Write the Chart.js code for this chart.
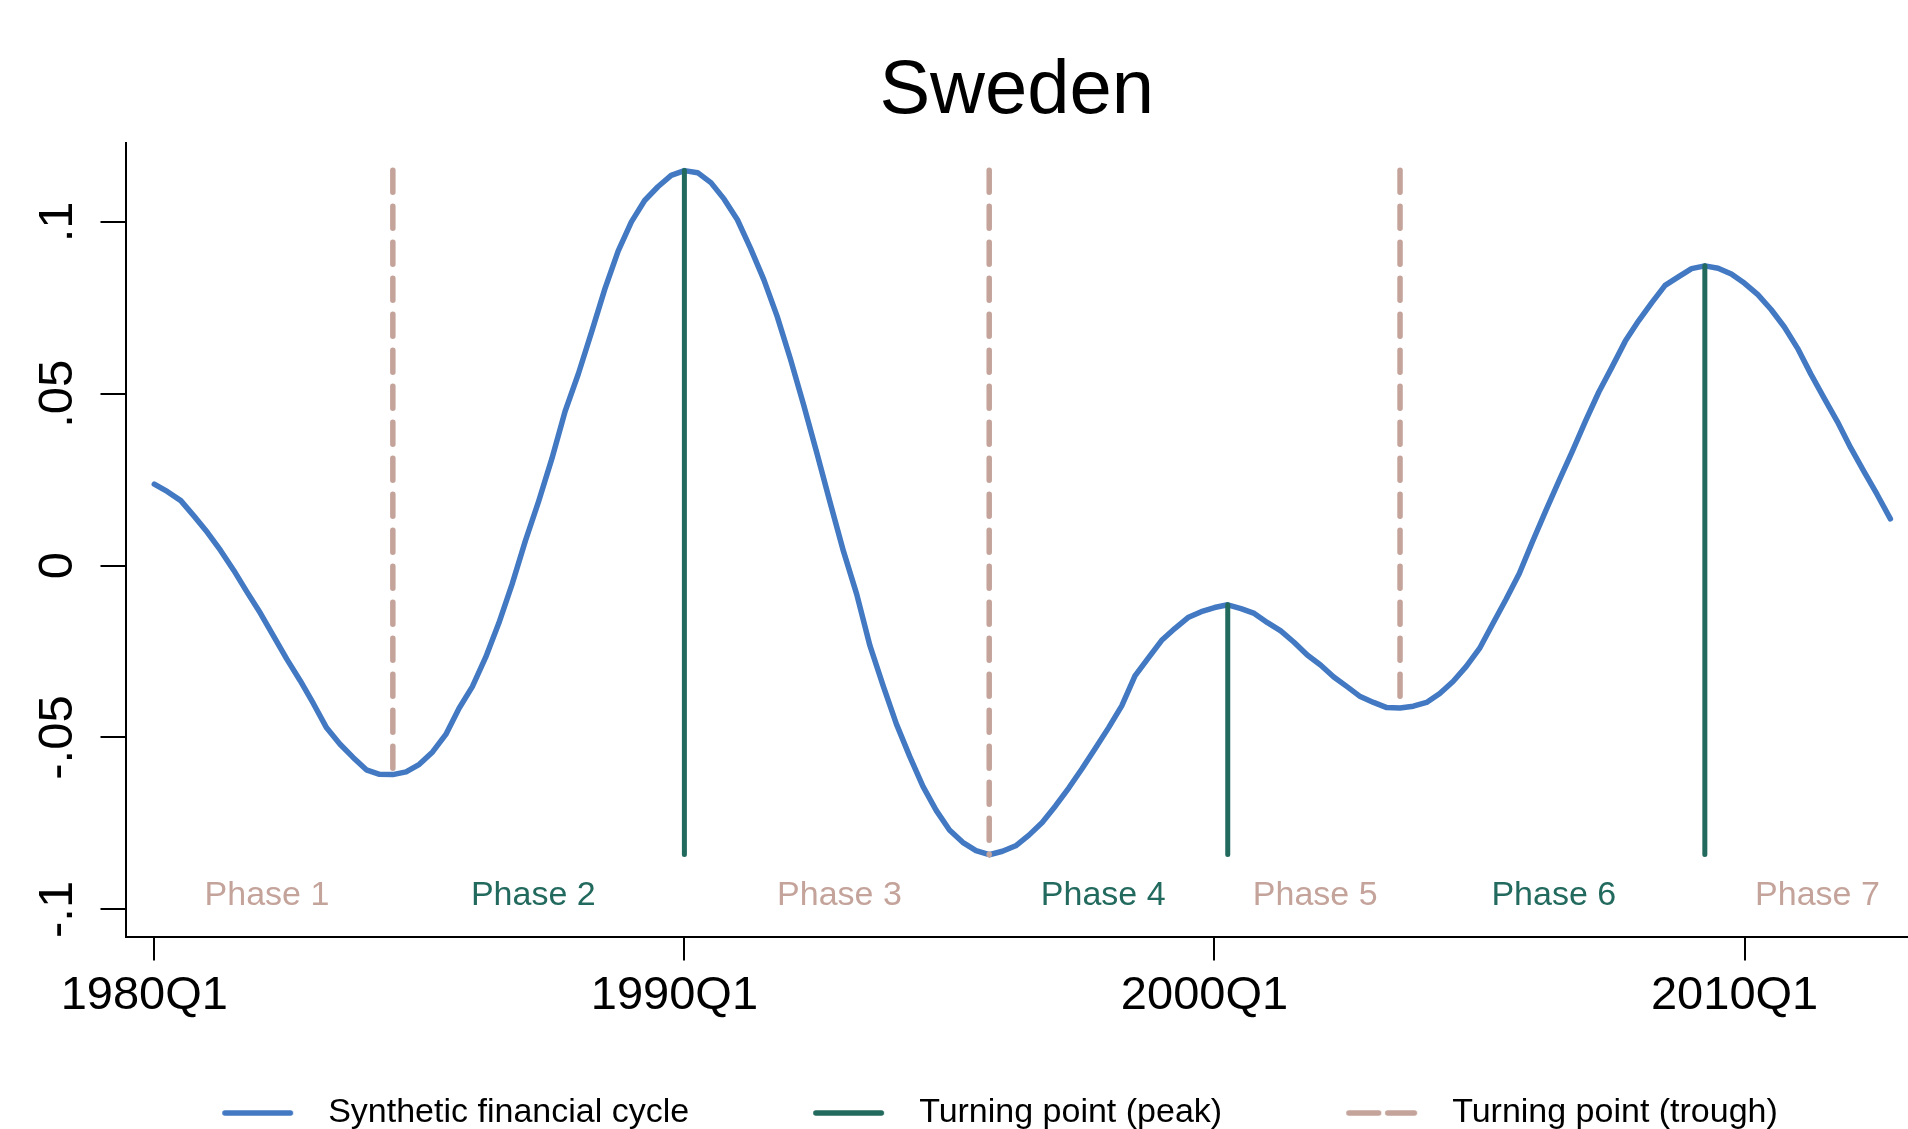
<!DOCTYPE html>
<html>
<head>
<meta charset="utf-8">
<script src="https://cdn.jsdelivr.net/npm/chart.js@4.4.1/dist/chart.umd.min.js"></script>
<style>
  html, body { margin: 0; padding: 0; background: #ffffff; overflow: hidden; }
  #wrap { width: 1908px; height: 1140px; position: relative; }
</style>
</head>
<body>
<div id="wrap"><canvas id="c"></canvas></div>
<script>
// ---------------- data ----------------
const chartTitle = 'Sweden';

// Synthetic financial cycle, quarterly, 1980Q1 (index 0) .. 2012Q4 (index 131)
const cycle = [
  0.0237, 0.0215, 0.0189, 0.0144, 0.0097, 0.0044, -0.0014, -0.0077, -0.0138, -0.0205,
  -0.0272, -0.0334, -0.0401, -0.0472, -0.0519, -0.0558, -0.0594, -0.0607, -0.0608, -0.0600,
  -0.0578, -0.0542, -0.0491, -0.0415, -0.0352, -0.0267, -0.0167, -0.0054, 0.0072, 0.0187,
  0.0311, 0.0449, 0.0558, 0.0680, 0.0805, 0.0915, 0.1000, 0.1062, 0.1102, 0.1135,
  0.1149, 0.1143, 0.1114, 0.1066, 0.1006, 0.0922, 0.0831, 0.0725, 0.0601, 0.0467,
  0.0327, 0.0183, 0.0042, -0.0083, -0.0233, -0.0350, -0.0461, -0.0555, -0.0642, -0.0712,
  -0.0769, -0.0805, -0.0829, -0.0841, -0.0831, -0.0815, -0.0784, -0.0747, -0.0699, -0.0647,
  -0.0591, -0.0532, -0.0472, -0.0408, -0.0321, -0.0269, -0.0218, -0.0183, -0.0151, -0.0134,
  -0.0122, -0.0114, -0.0125, -0.0139, -0.0166, -0.0190, -0.0223, -0.0260, -0.0289, -0.0324,
  -0.0352, -0.0381, -0.0398, -0.0413, -0.0414, -0.0409, -0.0398, -0.0372, -0.0337, -0.0293,
  -0.0241, -0.0169, -0.0098, -0.0023, 0.0070, 0.0160, 0.0247, 0.0332, 0.0421, 0.0505,
  0.0578, 0.0653, 0.0712, 0.0765, 0.0815, 0.0840, 0.0864, 0.0872, 0.0865, 0.0848,
  0.0821, 0.0788, 0.0745, 0.0694, 0.0632, 0.0557, 0.0487, 0.0419, 0.0343, 0.0274,
  0.0207, 0.0136
];

// Turning points (quarter index from 1980Q1)
const peakIdx = [40, 81, 117];     // 1990Q1, 2000Q2, 2009Q2
const troughIdx = [18, 63, 94];    // 1984Q3, 1995Q4, 2003Q3
const peakLineBase = -0.084;
const troughLineTop = 0.115;

// Phase labels
const phaseNames = ['Phase 1', 'Phase 2', 'Phase 3', 'Phase 4', 'Phase 5', 'Phase 6', 'Phase 7'];
const phaseX = [8.5, 28.6, 51.7, 71.6, 87.6, 105.6, 125.5];
const phaseY = -0.0961;

// Axis ticks
const xTickValues = [0, 40, 80, 120];
const xTickLabels = ['1980Q1', '1990Q1', '2000Q1', '2010Q1'];
const yTickValues = [-0.1, -0.05, 0, 0.05, 0.1];
const yTickLabels = ['-.1', '-.05', '0', '.05', '.1'];

const legendLabels = ['Synthetic financial cycle', 'Turning point (peak)', 'Turning point (trough)'];

// ---------------- styles ----------------
const BLUE = '#4279c2';
const GREEN = '#22695e';
const ROSE = '#c4a39b';
const FONT = "'Liberation Sans', Arial, Helvetica, sans-serif";
Chart.defaults.font.family = FONT;
Chart.defaults.color = '#000';

// legend glyph images (line samples)
const GLYPH_W = 161, GLYPH_LEAD = 72;
function legendGlyph(color, dashed) {
  const c = document.createElement('canvas');
  c.width = GLYPH_W; c.height = 12;
  const g = c.getContext('2d');
  g.strokeStyle = color;
  g.lineWidth = 5.3;
  g.lineCap = 'round';
  g.beginPath();
  const s = GLYPH_LEAD;
  if (dashed) {
    g.moveTo(s + 2.7, 6); g.lineTo(s + 32.5, 6);
    g.moveTo(s + 41.5, 6); g.lineTo(s + 71 - 2.7, 6);
  } else {
    g.moveTo(s + 2.7, 6); g.lineTo(s + 71 - 2.7, 6);
  }
  g.stroke();
  return c;
}
const legendGlyphs = [legendGlyph(BLUE, false), legendGlyph(GREEN, false), legendGlyph(ROSE, true)];
const legendColors = [BLUE, GREEN, ROSE];

// ---------------- datasets ----------------
const datasets = [];
peakIdx.forEach(i => {
  datasets.push({
    data: [{x: i, y: peakLineBase}, {x: i, y: cycle[i]}],
    borderColor: GREEN, borderWidth: 5, borderCapStyle: 'round',
    pointRadius: 0, order: 0
  });
});
troughIdx.forEach(i => {
  datasets.push({
    data: [{x: i, y: troughLineTop}, {x: i, y: cycle[i]}],
    borderColor: ROSE, borderWidth: 5.5, borderDash: [22, 14], borderCapStyle: 'round',
    pointRadius: 0, order: 0
  });
});
datasets.push({
  data: cycle.map((v, i) => ({x: i, y: v})),
  borderColor: BLUE, borderWidth: 5.5, borderJoinStyle: 'round', borderCapStyle: 'round',
  pointRadius: 0, order: 1
});

// ---------------- phase label plugin ----------------
const phasePlugin = {
  id: 'phaseLabels',
  afterDatasetsDraw(chart) {
    const {ctx, scales: {x, y}} = chart;
    ctx.save();
    ctx.font = '34px ' + FONT;
    ctx.textAlign = 'center';
    ctx.textBaseline = 'middle';
    phaseNames.forEach((t, i) => {
      ctx.fillStyle = (i % 2 === 0) ? ROSE : GREEN;
      ctx.fillText(t, x.getPixelForValue(phaseX[i]), y.getPixelForValue(phaseY));
    });
    ctx.restore();
  }
};

// ---------------- chart ----------------
new Chart(document.getElementById('c'), {
  type: 'line',
  data: { datasets },
  plugins: [phasePlugin],
  options: {
    responsive: true,
    maintainAspectRatio: false,
    animation: false,
    events: [],
    layout: { padding: { left: 20, right: 0, top: 0, bottom: 0 } },
    plugins: {
      title: {
        display: true, text: chartTitle, color: '#000', fullSize: false,
        font: { size: 76, weight: 'normal', lineHeight: 1.2 },
        padding: { top: 46.6, bottom: 5.2 }
      },
      legend: {
        display: true, position: 'bottom', align: 'center',
        labels: {
          usePointStyle: true, pointStyleWidth: GLYPH_W, padding: 52,
          color: '#000', font: { size: 34 },
          generateLabels: () => legendLabels.map((t, k) => ({
            text: t, pointStyle: legendGlyphs[k], fillStyle: legendColors[k],
            strokeStyle: legendColors[k], lineWidth: 0, hidden: false,
            fontColor: '#000', datasetIndex: k
          }))
        }
      },
      tooltip: { enabled: false }
    },
    scales: {
      x: {
        type: 'linear', min: -2.173, max: 132.33,
        afterBuildTicks: s => { s.ticks = xTickValues.map(v => ({value: v})); },
        afterFit: s => { s.height = 106.6; },
        ticks: {
          callback: (v, i) => xTickLabels[i],
          font: { size: 47 }, color: '#000', padding: 7, labelOffset: -10,
          maxRotation: 0, minRotation: 0, autoSkip: false
        },
        grid: { display: true, drawOnChartArea: false, drawTicks: true, tickLength: 23,
                color: '#000', tickColor: '#000', lineWidth: 2, tickWidth: 2 },
        border: { display: true, color: '#000', width: 2 }
      },
      y: {
        type: 'linear', min: -0.10815, max: 0.12293,
        afterBuildTicks: s => { s.ticks = yTickValues.map(v => ({value: v})); },
        afterFit: s => { s.width = 105.5; },
        ticks: {
          callback: (v, i) => yTickLabels[i],
          font: { size: 49 }, color: '#000', padding: 0,
          minRotation: 90, maxRotation: 90, crossAlign: 'center', autoSkip: false
        },
        grid: { display: true, drawOnChartArea: false, drawTicks: true, tickLength: 25,
                color: '#000', tickColor: '#000', lineWidth: 2, tickWidth: 2 },
        border: { display: true, color: '#000', width: 2 }
      }
    }
  }
});
</script>
</body>
</html>
